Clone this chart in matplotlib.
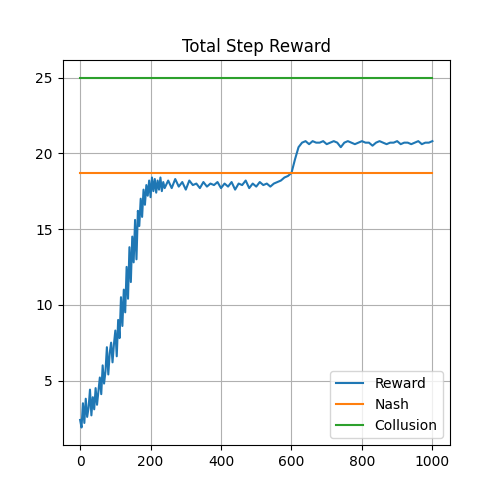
import numpy as np
import matplotlib.pyplot as plt

# reward: step 4 up to 240, then step 10
early_steps = list(range(0, 244, 4))
early_reward = [2.4, 1.9, 3.5, 2.2, 3.8, 2.6, 3.2, 4.4, 2.7, 3.9, 3.1, 4.5, 3.4,
                4.3, 5.2, 4.1, 6.0, 4.8, 5.6, 7.2, 5.4, 6.8, 7.5, 6.2, 7.4, 8.3,
                6.6, 9.0, 7.8, 10.5, 8.6, 11.0, 9.5, 12.5, 10.4, 13.8, 11.5,
                14.5, 12.8, 15.6, 13.0, 16.2, 15.2, 17.0, 15.8, 17.6, 16.6,
                17.9, 17.2, 18.2, 17.1, 18.4, 17.5, 18.3, 17.4, 18.2, 17.6,
                18.4, 17.5, 18.1, 17.7]
late_steps = list(range(250, 1010, 10))
late_reward = [18.2, 17.7, 18.3, 17.8, 18.1, 17.6, 18.2, 17.9, 18.0, 17.7,
               18.1, 17.8, 18.0, 17.9, 18.1, 17.7, 18.0, 17.8, 18.1, 17.6,
               18.0, 17.9, 18.2, 17.7, 18.0, 17.8, 18.1, 17.9, 18.0, 17.8,
               18.0, 18.1, 18.2, 18.4, 18.5, 18.7, 19.6, 20.4, 20.7, 20.8,
               20.6, 20.8, 20.7, 20.7, 20.8, 20.6, 20.7, 20.8, 20.7, 20.4,
               20.7, 20.8, 20.7, 20.6, 20.7, 20.8, 20.7, 20.7, 20.5, 20.7,
               20.8, 20.7, 20.6, 20.7, 20.7, 20.8, 20.6, 20.7, 20.7, 20.6,
               20.7, 20.8, 20.6, 20.7, 20.7, 20.8]
steps = early_steps + late_steps
reward = early_reward + late_reward
nash = 18.7
collusion = 25.0

fig, ax = plt.subplots(figsize=(5, 5), dpi=100)
ax.plot(steps, reward, label='Reward')
ax.plot([0, 1000], [nash, nash], label='Nash')
ax.plot([0, 1000], [collusion, collusion], label='Collusion')
ax.set_title('Total Step Reward')
ax.set_xticks([0, 200, 400, 600, 800, 1000])
ax.set_yticks([5, 10, 15, 20, 25])
ax.grid(True)
ax.legend(loc='lower right')
plt.savefig('out.png')
